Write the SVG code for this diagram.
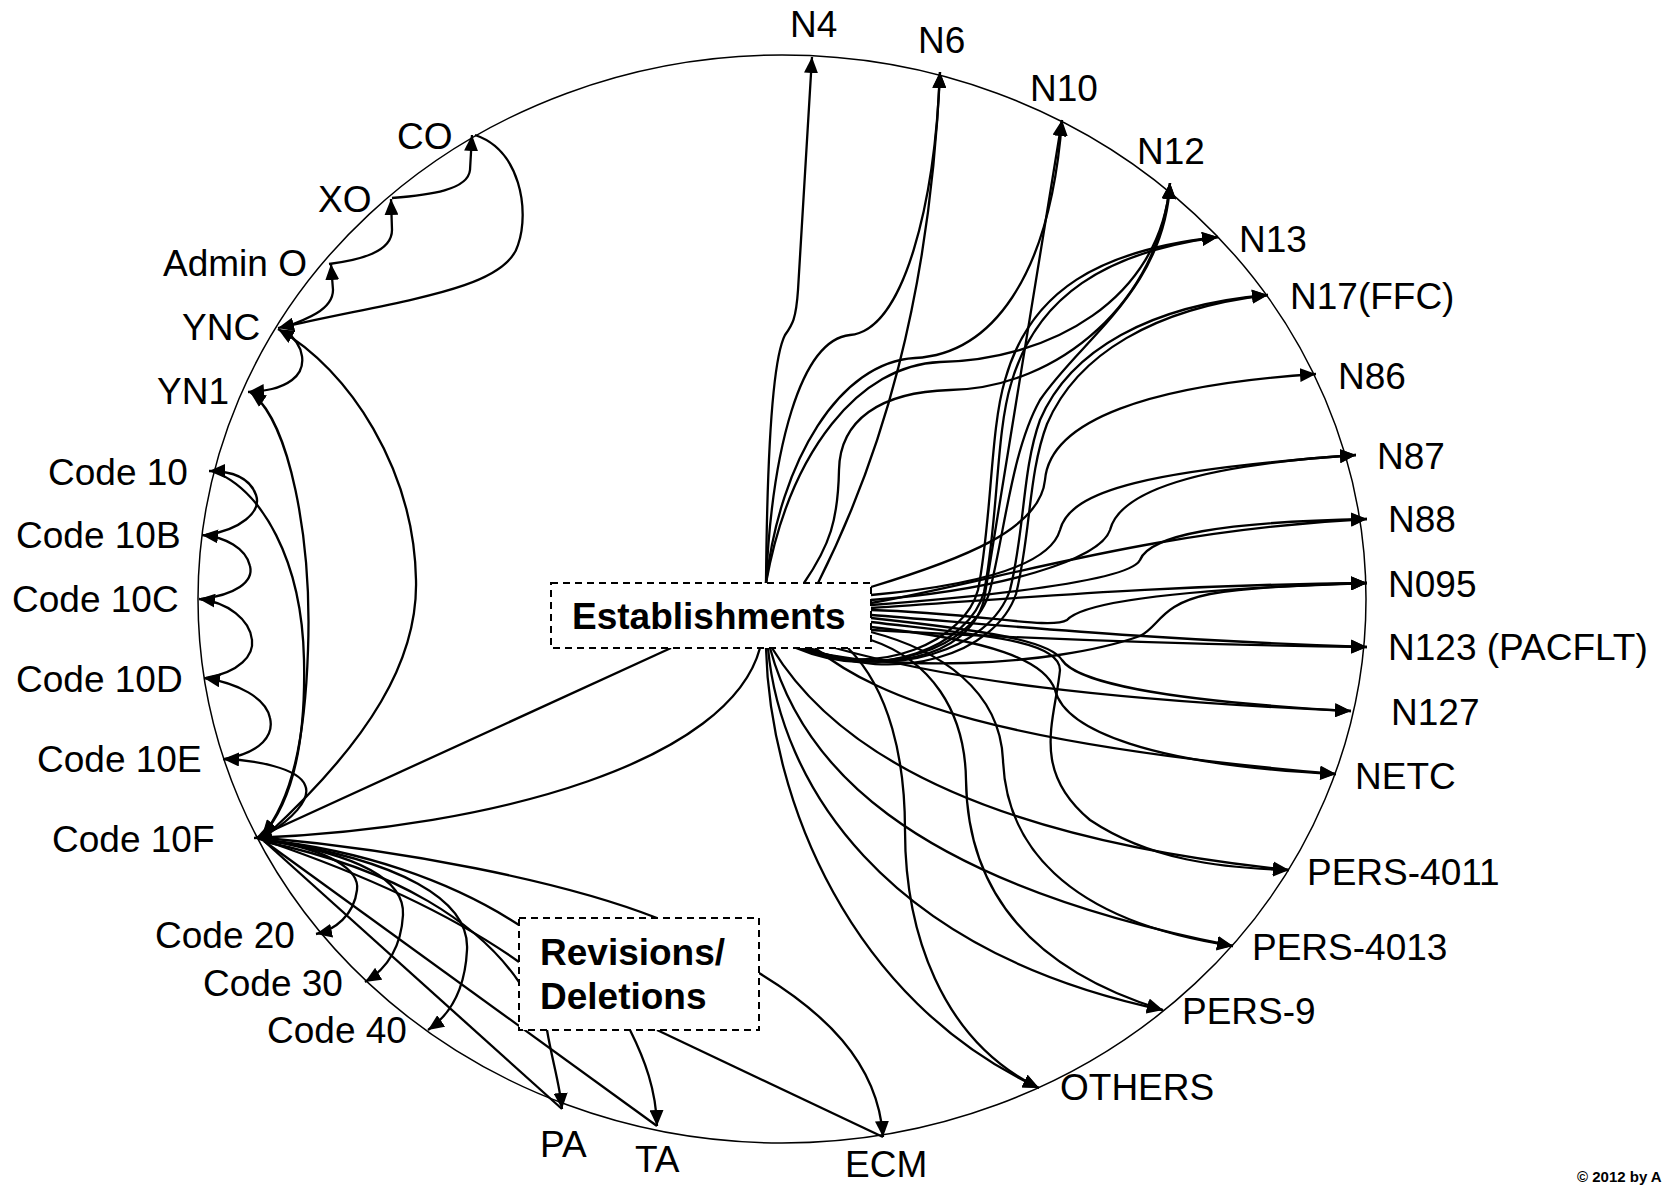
<svg xmlns="http://www.w3.org/2000/svg" width="1663" height="1187" viewBox="0 0 1663 1187">
  <style>
    .lbl { font-family: "Liberation Sans", Arial, sans-serif; font-size: 37px; fill: #000; }
    .bold { font-weight: bold; }
    .note { font-family: "Liberation Sans", Arial, sans-serif; font-size: 15px; font-weight: bold; fill: #000; }
    .ring { fill: none; stroke: #000; stroke-width: 1.5; }
    .box { fill: #fff; stroke: #000; stroke-width: 2; stroke-dasharray: 7 5; }
    #connectors path { fill: none; stroke: #000; stroke-width: 2.3; }
    .a { marker-end: url(#ah); }
    .s { marker-start: url(#ahs); }
  </style>
  <defs>
    <marker id="ah" markerUnits="userSpaceOnUse" markerWidth="16" markerHeight="14" refX="16" refY="7" orient="auto">
      <path d="M0,0 L16,7 L0,14 z" fill="#000"/>
    </marker>
    <marker id="ahs" markerUnits="userSpaceOnUse" markerWidth="16" markerHeight="14" refX="16" refY="7" orient="auto-start-reverse">
      <path d="M0,0 L16,7 L0,14 z" fill="#000"/>
    </marker>
  </defs>

  <rect width="1663" height="1187" fill="#fff"/>

  <!-- outer ring the nodes sit on -->
  <ellipse class="ring" cx="782" cy="599" rx="584" ry="544"/>

  <g id="connectors">
    <!-- command chain, top left -->
    <path class="a" d="M283,328 C305,320 333,310 333,290 L331,264"/>
    <path class="a" d="M329,264 C360,260 392,252 392,230 L391,199"/>
    <path class="a" d="M392,198 C430,195 468,190 470,170 L472,135"/>
    <path class="a" d="M475,135 C520,150 530,210 518,245 C505,290 400,300 278,328"/>
    <path class="a" d="M285,331 C305,345 308,368 292,380 C280,389 265,391 248,392"/>

    <!-- Code 10F links upward -->
    <path class="a" d="M268,834 C370,740 418,660 416,580 C414,470 350,370 278,329"/>
    <path class="s a" d="M250,392 C290,420 312,540 308,650 C305,740 292,800 262,836"/>
    <path class="a" d="M213,471 C262,490 302,560 304,660 C306,750 290,805 262,836"/>

    <!-- Code 10 series -->
    <path class="a" d="M206,535 C240,530 262,512 256,495 C250,478 232,471 209,471"/>
    <path class="a" d="M201,599 C235,595 254,582 250,566 C246,548 225,537 202,535"/>
    <path class="a" d="M206,678 C240,672 254,655 252,640 C250,620 228,602 199,599"/>
    <path class="a" d="M225,759 C262,752 274,735 270,718 C266,698 238,683 204,678"/>
    <path class="a" d="M268,834 C290,820 312,800 305,785 C298,768 255,760 223,759"/>

    <!-- Establishments to Code 10F -->
    <path class="a" d="M671,648 Q480,735 256,838"/>
    <path class="a" d="M760,648 C730,760 500,828 254,838"/>

    <!-- Code 10F fan, lower left -->
    <path class="a" d="M266,840 C330,850 360,870 357,890 C354,915 335,930 316,934"/>
    <path class="a" d="M266,840 C360,855 405,880 403,915 C401,950 385,970 365,982"/>
    <path class="a" d="M266,840 C400,860 470,900 467,950 C465,990 450,1015 428,1030"/>
    <path d="M264,841 L562,1109"/>
    <path d="M264,841 L657,1126"/>
    <path d="M266,838 C400,850 560,880 657,918"/>
    <path d="M266,840 C360,850 450,880 519,925"/>
    <path d="M266,841 C380,880 460,920 519,962"/>
    <path d="M266,842 C400,870 480,925 519,982"/>

    <!-- Revisions/Deletions outputs -->
    <path class="a" d="M547,1030 C552,1060 560,1085 562,1109"/>
    <path class="a" d="M630,1030 C645,1060 656,1090 657,1126"/>
    <path d="M657,1030 L883,1137"/>
    <path class="a" d="M759,973 C820,1010 878,1060 883,1137"/>

    <!-- Establishments, upward -->
    <path class="a" d="M766,583 C767,470 772,360 785,335 C792,325 796,320 798,290 L812,57"/>
    <path class="a" d="M766,583 C772,450 800,340 850,335 C905,330 935,200 940,72"/>
    <path class="a" d="M818,583 C880,460 930,300 940,72"/>
    <path class="a" d="M766,583 C780,460 840,362 915,358 C990,354 1050,280 1062,120"/>
    <path class="a" d="M766,583 C790,450 860,365 940,362 C1050,360 1160,300 1170,183"/>
    <path class="a" d="M804,583 C830,545 838,520 839,470 C840,420 880,392 950,390 C1060,388 1160,300 1170,183"/>

    <!-- Establishments, loops under the box to the upper right -->
    <path class="a" d="M805,648 C880,675 968,660 984,600 L1062,120"/>
    <path class="a" d="M800,648 C880,680 975,650 990,590 C1005,530 1012,450 1040,400 C1080,340 1165,290 1170,183"/>
    <path class="a" d="M800,648 C880,680 965,640 978,590 C992,520 990,430 1005,380 C1030,290 1100,250 1218,237"/>
    <path class="a" d="M796,648 C880,684 970,645 984,592 C998,522 996,432 1011,384 C1036,296 1106,252 1218,237"/>
    <path class="a" d="M805,648 C890,682 990,650 1010,590 C1025,530 1022,470 1040,420 C1070,350 1150,305 1268,295"/>
    <path class="a" d="M810,648 C895,686 996,654 1016,594 C1031,534 1028,474 1047,424 C1077,354 1155,308 1268,295"/>

    <!-- Establishments, right-hand fan -->
    <path class="a" d="M871,587 C960,560 1040,530 1045,480 C1050,420 1150,385 1316,374"/>
    <path class="a" d="M871,595 C980,585 1050,565 1060,530 C1070,490 1150,470 1356,455"/>
    <path class="a" d="M871,600 C1000,590 1100,560 1110,530 C1120,490 1200,465 1356,455"/>
    <path class="a" d="M871,603 C1000,580 1150,530 1367,519"/>
    <path class="a" d="M871,605 C1000,595 1130,580 1140,560 C1150,535 1220,522 1367,519"/>
    <path class="a" d="M871,608 C1000,600 1150,585 1367,583"/>
    <path class="a" d="M871,610 C980,613 1050,630 1067,620 C1080,605 1150,590 1367,583"/>
    <path class="a" d="M800,648 C880,672 1050,668 1140,636 C1160,626 1160,604 1210,594 C1260,586 1320,584 1367,583"/>
    <path class="a" d="M871,615 C1000,625 1150,640 1367,647"/>
    <path class="a" d="M871,630 C1050,640 1200,645 1367,647"/>
    <path class="a" d="M871,618 C980,630 1050,640 1062,660 C1075,680 1150,700 1351,711"/>
    <path class="a" d="M835,648 C950,680 1100,700 1351,711"/>
    <path class="a" d="M871,627 C990,640 1045,660 1055,690 C1065,730 1150,765 1336,774"/>
    <path class="a" d="M815,648 C880,700 1000,745 1336,774"/>
    <path class="a" d="M772,648 C840,760 1000,840 1289,870"/>
    <path class="a" d="M871,622 C980,635 1060,640 1060,670 C1055,720 1030,770 1090,820 C1150,860 1220,868 1289,870"/>
    <path class="a" d="M770,648 C800,760 900,880 1233,946"/>
    <path class="a" d="M871,632 C940,650 1000,690 1003,760 C1006,840 1060,920 1233,946"/>
    <path class="a" d="M768,648 C780,780 880,950 1163,1010"/>
    <path class="a" d="M871,640 C930,660 965,710 966,780 C967,860 1000,960 1163,1010"/>
    <path class="a" d="M766,648 C770,800 850,1000 1039,1088"/>
    <path class="a" d="M848,648 C890,690 905,760 905,830 C905,930 940,1040 1039,1088"/>
  </g>

  <!-- hub boxes -->
  <g id="establishments">
    <rect class="box" x="551" y="583" width="320" height="65"/>
    <text class="lbl bold" x="572" y="629">Establishments</text>
  </g>
  <g id="revisions">
    <rect class="box" x="519" y="918" width="240" height="112"/>
    <text class="lbl bold" x="540" y="965">Revisions/</text>
    <text class="lbl bold" x="540" y="1009">Deletions</text>
  </g>

  <!-- ring nodes -->
  <g id="n-co"><text class="lbl" x="397" y="149">CO</text></g>
  <g id="n-xo"><text class="lbl" x="318" y="212">XO</text></g>
  <g id="n-admino"><text class="lbl" x="163" y="276">Admin O</text></g>
  <g id="n-ync"><text class="lbl" x="182" y="340">YNC</text></g>
  <g id="n-yn1"><text class="lbl" x="157" y="404">YN1</text></g>
  <g id="n-code10"><text class="lbl" x="48" y="485">Code 10</text></g>
  <g id="n-code10b"><text class="lbl" x="16" y="548">Code 10B</text></g>
  <g id="n-code10c"><text class="lbl" x="12" y="612">Code 10C</text></g>
  <g id="n-code10d"><text class="lbl" x="16" y="692">Code 10D</text></g>
  <g id="n-code10e"><text class="lbl" x="37" y="772">Code 10E</text></g>
  <g id="n-code10f"><text class="lbl" x="52" y="852">Code 10F</text></g>
  <g id="n-code20"><text class="lbl" x="155" y="948">Code 20</text></g>
  <g id="n-code30"><text class="lbl" x="203" y="996">Code 30</text></g>
  <g id="n-code40"><text class="lbl" x="267" y="1043">Code 40</text></g>
  <g id="n-pa"><text class="lbl" x="540" y="1157">PA</text></g>
  <g id="n-ta"><text class="lbl" x="635" y="1172">TA</text></g>
  <g id="n-ecm"><text class="lbl" x="845" y="1177">ECM</text></g>
  <g id="n-others"><text class="lbl" x="1060" y="1100">OTHERS</text></g>
  <g id="n-pers9"><text class="lbl" x="1182" y="1024">PERS-9</text></g>
  <g id="n-pers4013"><text class="lbl" x="1252" y="960">PERS-4013</text></g>
  <g id="n-pers4011"><text class="lbl" x="1307" y="885">PERS-4011</text></g>
  <g id="n-netc"><text class="lbl" x="1355" y="789">NETC</text></g>
  <g id="n-n127"><text class="lbl" x="1391" y="725">N127</text></g>
  <g id="n-n123"><text class="lbl" x="1388" y="660">N123 (PACFLT)</text></g>
  <g id="n-n095"><text class="lbl" x="1388" y="597">N095</text></g>
  <g id="n-n88"><text class="lbl" x="1388" y="532">N88</text></g>
  <g id="n-n87"><text class="lbl" x="1377" y="469">N87</text></g>
  <g id="n-n86"><text class="lbl" x="1338" y="389">N86</text></g>
  <g id="n-n17"><text class="lbl" x="1290" y="309">N17(FFC)</text></g>
  <g id="n-n13"><text class="lbl" x="1239" y="252">N13</text></g>
  <g id="n-n12"><text class="lbl" x="1137" y="164">N12</text></g>
  <g id="n-n10"><text class="lbl" x="1030" y="101">N10</text></g>
  <g id="n-n6"><text class="lbl" x="918" y="53">N6</text></g>
  <g id="n-n4"><text class="lbl" x="790" y="37">N4</text></g>

  <text class="note" x="1577" y="1182">© 2012 by A</text>
</svg>
